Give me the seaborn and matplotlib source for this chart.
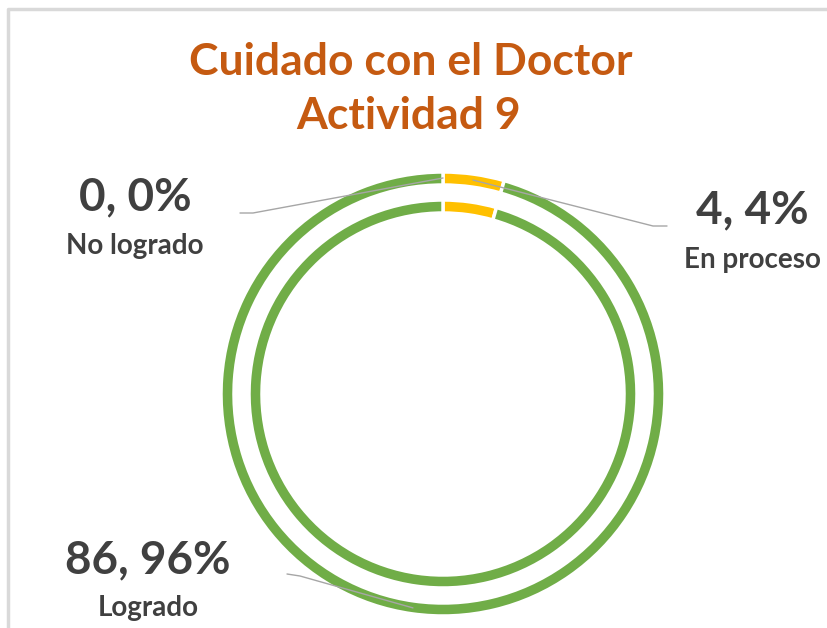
import numpy as np
import matplotlib
matplotlib.use("Agg")
import matplotlib.pyplot as plt
import seaborn as sns

categories = ["No logrado", "En proceso", "Logrado"]
outer_values = [0, 4, 86]
inner_values = [0, 4, 86]
percent_labels = ["0%", "4%", "96%"]
title_lines = ["Cuidado con el Doctor", "Actividad 9"]
colors = ["#A5A5A5", "#FFC000", "#70AD47"]

sns.set_theme(style="white")
plt.rcParams['font.family'] = ['Lato', 'DejaVu Sans']

W, H = 828, 628
fig = plt.figure(figsize=(W / 100, H / 100), dpi=100)
fig.patch.set_facecolor("white")

# pie axes: center (443, 394) px, radius 222 px
cx, cy, R = 443, 394, 222
ax = fig.add_axes([(cx - R) / W, (H - cy - R) / H, 2 * R / W, 2 * R / H])
ring_w = 13 / R
inner_r = 194 / R
ax.pie(outer_values, radius=1.0, colors=colors, startangle=90, counterclock=False,
       wedgeprops=dict(width=ring_w, edgecolor="white", linewidth=2.5))
ax.pie(inner_values, radius=inner_r, colors=colors, startangle=90, counterclock=False,
       wedgeprops=dict(width=ring_w, edgecolor="white", linewidth=2.5))
ax.set_xlim(-1, 1)
ax.set_ylim(-1, 1)
ax.set_aspect("equal")
ax.axis("off")

# overlay axes in pixel coords for labels and leader lines
ov = fig.add_axes([0, 0, 1, 1], facecolor="none")
ov.set_xlim(0, W)
ov.set_ylim(H, 0)
ov.axis("off")

# frame border (cropped chart area)
ov.plot([8, 8, W + 5], [H + 5, 9, 9], color="#D9D9D9", lw=2.5, solid_capstyle="butt")

tc = "#C55A11"
ov.text(W / 2 - 3, 62, title_lines[0], ha="center", va="center", fontsize=32,
        fontweight="bold", color=tc)
ov.text(W / 2 - 5, 116, title_lines[1], ha="center", va="center", fontsize=32,
        fontweight="bold", color=tc)

# leader lines from wedge mid-angles
total = sum(outer_values)
cum = np.cumsum([0] + outer_values)
mids = [(cum[i] + cum[i + 1]) / 2 / total * 360 for i in range(len(outer_values))]
r_anchor = R - 6
label_pos = [(135, 197, 246), (752, 210, 260), (148, 560, 608)]
elbows = [((253, 213), (240, 213)), ((653, 226), (667, 226)), ((300, 576), (287, 574))]
lc = "#404040"
for i, cat in enumerate(categories):
    a = np.deg2rad(mids[i])
    ax_x = cx + r_anchor * np.sin(a)
    ax_y = cy - r_anchor * np.cos(a)
    (ex, ey), (fx, fy) = elbows[i]
    ov.plot([ax_x, ex, fx], [ax_y, ey, fy], color="#A6A6A6", lw=1.0)
    x, y1, y2 = label_pos[i]
    ov.text(x, y1, f"{outer_values[i]}, {percent_labels[i]}", ha="center", va="center",
            fontsize=33, fontweight="bold", color=lc)
    ov.text(x, y2, cat, ha="center", va="center", fontsize=20, fontweight="bold", color=lc)

fig.savefig("out.png", dpi=100, facecolor="white")
